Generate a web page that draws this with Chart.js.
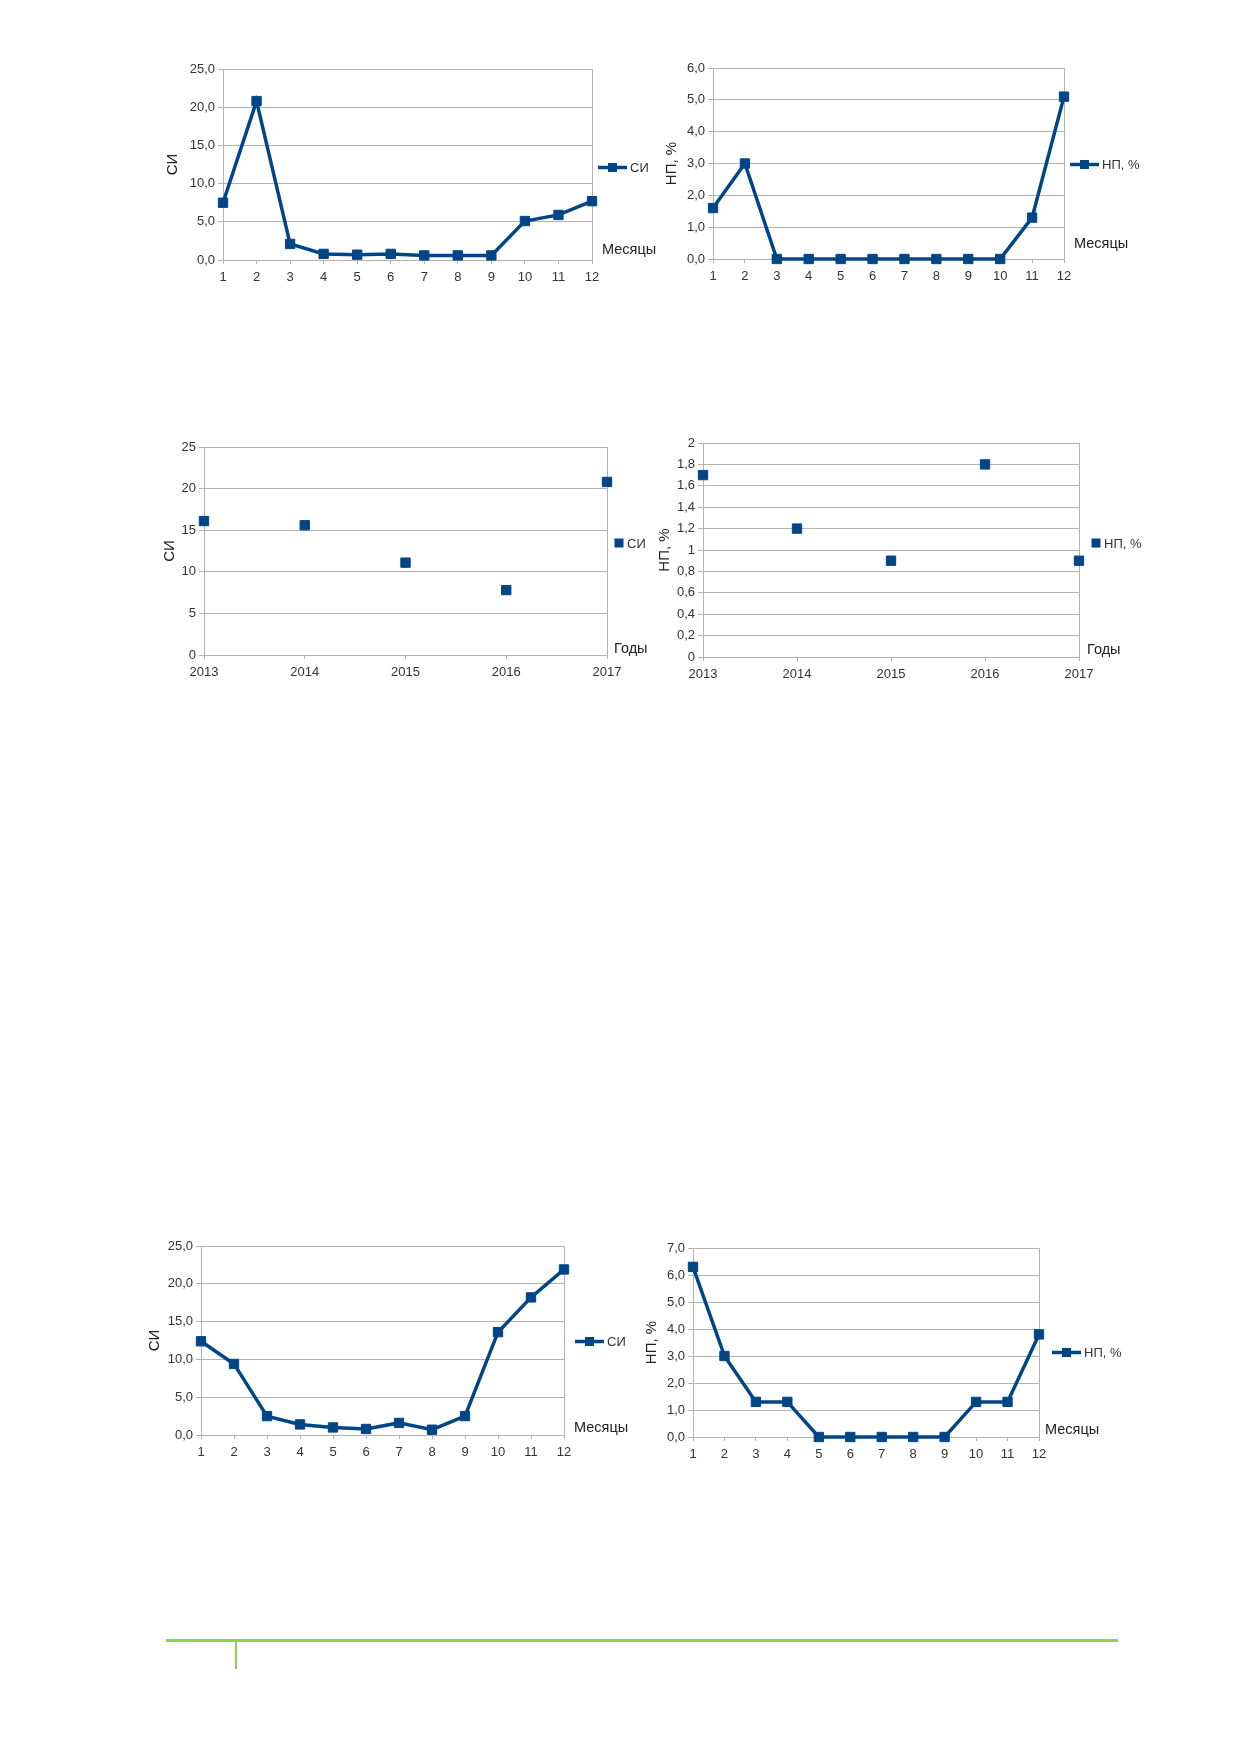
<!DOCTYPE html>
<html>
<head>
<meta charset="utf-8">
<script src="https://cdn.jsdelivr.net/npm/chart.js@4.4.1/dist/chart.umd.min.js"></script>
<style>
  body { margin: 0; background: #fff; }
  #page { position: relative; width: 1239px; height: 1752px; overflow: hidden; background: #fff; }
  #page canvas { position: absolute; }
  .rule { position: absolute; background: #92d050; }
</style>
</head>
<body>
<div id="page">
  <div class="rule" style="left:166px;top:1639px;width:952px;height:3px"></div>
  <div class="rule" style="left:235px;top:1640px;width:2px;height:29px"></div>
</div>
<script>
// data
const months = ["1", "2", "3", "4", "5", "6", "7", "8", "9", "10", "11", "12"];
const years = [2013, 2014, 2015, 2016, 2017];

const siMonthsTop = [7.5, 20.8, 2.1, 0.8, 0.7, 0.8, 0.6, 0.6, 0.6, 5.1, 5.9, 7.7];
const npMonthsTop = [1.6, 3.0, 0, 0, 0, 0, 0, 0, 0, 0, 1.3, 5.1];
const siYears = [16.1, 15.6, 11.1, 7.8, 20.8];
const npYears = [1.7, 1.2, 0.9, 1.8, 0.9];
const siMonthsBottom = [12.4, 9.4, 2.5, 1.4, 1.0, 0.8, 1.6, 0.7, 2.5, 13.6, 18.2, 21.9];
const npMonthsBottom = [6.3, 3.0, 1.3, 1.3, 0, 0, 0, 0, 0, 1.3, 1.3, 3.8];

const BLUE = "#004586";
const GRID = "#b3b3b3";
const FONT = "'Liberation Sans', Arial, sans-serif";

const comma1 = v => v.toFixed(1).replace(".", ",");
const commaAuto = v => String(+v.toFixed(1)).replace(".", ",");

// draws right frame line, legend and the axis note next to the x axis end
const decor = {
  id: "decor",
  beforeDatasetsDraw(chart) {
    const { ctx, chartArea: a } = chart;
    ctx.save();
    ctx.strokeStyle = GRID;
    ctx.lineWidth = 1;
    ctx.beginPath();
    ctx.moveTo(Math.round(a.right) + 0.5, a.top);
    ctx.lineTo(Math.round(a.right) + 0.5, a.bottom);
    ctx.stroke();
    ctx.restore();
  },
  afterDraw(chart, args, o) {
    const { ctx, chartArea: a } = chart;
    const ds = chart.data.datasets[0];
    ctx.save();
    ctx.fillStyle = BLUE;
    ctx.strokeStyle = BLUE;
    const ly = a.top + (a.bottom - a.top) / 2 + o.legDy;
    let tx;
    const x0 = a.right + o.legDx;
    if (o.withLine) {
      ctx.lineWidth = 3.5;
      ctx.beginPath();
      ctx.moveTo(x0, ly);
      ctx.lineTo(x0 + 29, ly);
      ctx.stroke();
      ctx.fillRect(x0 + 10, ly - 4.5, 9, 9);
      tx = x0 + 32;
    } else {
      ctx.fillRect(x0 - 4.5, ly - 4.5, 9, 9);
      tx = x0 + 8;
    }
    ctx.fillStyle = "#333";
    ctx.font = "13px " + FONT;
    ctx.textBaseline = "middle";
    ctx.fillText(ds.label, tx, ly + 1);
    ctx.fillStyle = "#222";
    ctx.font = "14.5px " + FONT;
    ctx.fillText(o.note, a.right + o.noteDx, a.bottom + o.noteDy);
    ctx.restore();
  }
};

function makeChart(box, kind, label, xs, ys, yMax, yStep, yFmt, yTitlePad, deco) {
  const canvas = document.createElement("canvas");
  const w = box.r - box.l + 170;
  const h = box.b - box.t + 47;
  canvas.width = w;
  canvas.height = h;
  canvas.style.left = (box.l - 70) + "px";
  canvas.style.top = (box.t - 12) + "px";
  canvas.style.width = w + "px";
  canvas.style.height = h + "px";
  document.getElementById("page").appendChild(canvas);

  const point = {
    pointStyle: "rect",
    pointRadius: 6.6,
    pointBorderWidth: 1,
    pointBackgroundColor: BLUE,
    pointBorderColor: BLUE
  };

  let data, xScale;
  if (kind === "line") {
    data = {
      labels: xs,
      datasets: [Object.assign({ label: label, data: ys, borderColor: BLUE, backgroundColor: BLUE,
        borderWidth: 3.5, tension: 0, clip: false }, point)]
    };
    xScale = { type: "category", offset: false };
  } else {
    data = {
      datasets: [Object.assign({ label: label, data: xs.map((x, i) => ({ x: x, y: ys[i] })),
        showLine: false, clip: false, backgroundColor: BLUE, borderColor: BLUE }, point)]
    };
    xScale = { type: "linear", min: xs[0], max: xs[xs.length - 1] };
  }

  Object.assign(xScale, {
    grid: { drawOnChartArea: false, color: GRID, tickLength: 4 },
    border: { color: GRID },
    ticks: { color: "#333", font: { size: 13, family: FONT }, padding: 6, maxRotation: 0, autoSkip: false,
      stepSize: 1, callback: kind === "line" ? function (v) { return this.getLabelForValue(v); } : v => String(v) },
    afterFit: s => { s.height = 35; }
  });

  new Chart(canvas.getContext("2d"), {
    type: kind === "line" ? "line" : "scatter",
    data: data,
    plugins: [decor],
    options: {
      responsive: false,
      animation: false,
      events: [],
      layout: { padding: { left: 0, top: 12, right: 100, bottom: 0 } },
      plugins: {
        legend: { display: false },
        tooltip: { enabled: false },
        decor: deco
      },
      scales: {
        x: xScale,
        y: {
          min: 0,
          max: yMax,
          grid: { color: GRID, tickLength: 5 },
          border: { color: GRID },
          ticks: { stepSize: yStep, color: "#333", font: { size: 13, family: FONT }, padding: 3, callback: yFmt },
          title: { display: true, text: label, color: "#222", font: { size: 15, family: FONT },
            padding: { top: yTitlePad - 0.6, bottom: 0 } },
          afterFit: s => { s.width = 70; }
        }
      }
    }
  });
}

makeChart({ l: 223, r: 592, t: 69, b: 260 }, "line", "СИ", months, siMonthsTop, 25, 5, comma1, 11.6,
  { withLine: true, legDx: 6, legDy: 3, note: "Месяцы", noteDx: 10, noteDy: -10 });
makeChart({ l: 713, r: 1064, t: 68, b: 259 }, "line", "НП, %", months, npMonthsTop, 6, 1, comma1, 20.6,
  { withLine: true, legDx: 6, legDy: 1, note: "Месяцы", noteDx: 10, noteDy: -15 });
makeChart({ l: 204, r: 607, t: 447, b: 655 }, "scatter", "СИ", years, siYears, 25, 5, commaAuto, 27.6,
  { withLine: false, legDx: 12, legDy: -8, note: "Годы", noteDx: 7, noteDy: -6 });
makeChart({ l: 703, r: 1079, t: 443, b: 657 }, "scatter", "НП, %", years, npYears, 2, 0.2, commaAuto, 23.6,
  { withLine: false, legDx: 17, legDy: -7, note: "Годы", noteDx: 8, noteDy: -7 });
makeChart({ l: 201, r: 564, t: 1246, b: 1435 }, "line", "СИ", months, siMonthsBottom, 25, 5, comma1, 15.6,
  { withLine: true, legDx: 11, legDy: 1, note: "Месяцы", noteDx: 10, noteDy: -7 });
makeChart({ l: 693, r: 1039, t: 1248, b: 1437 }, "line", "НП, %", months, npMonthsBottom, 7, 1, comma1, 20.6,
  { withLine: true, legDx: 13, legDy: 10, note: "Месяцы", noteDx: 6, noteDy: -7 });
</script>
</body>
</html>
